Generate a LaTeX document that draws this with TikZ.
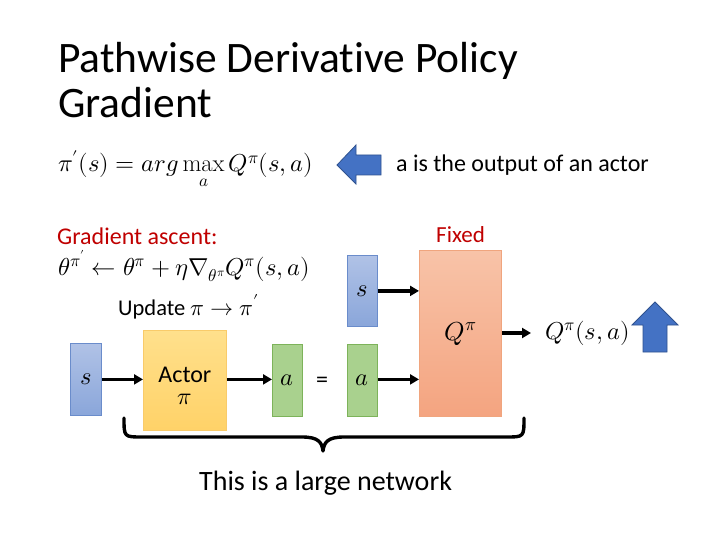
\documentclass[tikz,border=0pt]{standalone}
\usepackage{fontspec}
\usepackage{unicode-math}
\setmainfont{Carlito}[Ligatures={NoCommon}]
\setmathfont{Latin Modern Math}
\setmathrm{Latin Modern Roman}
\usetikzlibrary{arrows.meta}
\definecolor{redtxt}{HTML}{C00000}
\definecolor{blueTop}{HTML}{B0C2E6}
\definecolor{blueBot}{HTML}{8AA6DA}
\definecolor{blueLine}{HTML}{6A8CCB}
\definecolor{arrowFill}{HTML}{4472C4}
\definecolor{arrowLine}{HTML}{2F528F}
\definecolor{salTop}{HTML}{F8C3A8}
\definecolor{salBot}{HTML}{F4A480}
\definecolor{salLine}{HTML}{F0A57E}
\definecolor{yelTop}{HTML}{FFE08C}
\definecolor{yelBot}{HTML}{FFD268}
\definecolor{yelLine}{HTML}{F9CB6A}
\definecolor{grnFill}{HTML}{A9D18E}
\definecolor{grnLine}{HTML}{7DB35A}
\tikzset{
  txt/.style={inner sep=0pt, anchor=base west},
  blockbox/.style={rectangle, inner sep=0pt, anchor=north west, line width=0.8pt},
  bluebox/.style={blockbox, draw=blueLine, top color=blueTop, bottom color=blueBot},
  greenbox/.style={blockbox, draw=grnLine, fill=grnFill},
  actorbox/.style={blockbox, draw=yelLine, top color=yelTop, bottom color=yelBot},
  qbox/.style={blockbox, draw=salLine, top color=salTop, bottom color=salBot},
  flow/.style={line width=3.2pt, -{Triangle[length=9pt,width=10pt]}},
  blockarrow/.style={fill=arrowFill, draw=arrowLine, line width=0.8pt, line join=miter},
  bracepath/.style={line width=3.4pt, line cap=round, line join=round},
  mathbig/.style={font=\fontsize{24.5}{28}\selectfont},
  bodytxt/.style={font=\fontsize{24}{28}\selectfont}
}
\begin{document}
\begin{tikzpicture}[x=1pt,y=-1pt]
\useasboundingbox[fill=white] (0,0) rectangle (720,540);
% title
\node[txt, font=\fontsize{43.5}{48}\selectfont] (title1) at (58,73) {Pathwise Derivative Policy};
\node[txt, font=\fontsize{43.5}{48}\selectfont] (title2) at (58,118) {Gradient};
% first equation
\node[txt, mathbig] (eq1) at (58,172) {$\pi'(s) = arg\max\limits_{a} Q^{\pi}(s,a)$};
% left block arrow
\draw[blockarrow] (337,165) -- (356,145) -- (356,155) -- (381,155) -- (381,175) -- (356,175) -- (356,184) -- cycle;
\node[txt, bodytxt] (note) at (396,172) {a is the output of an actor};
% gradient ascent
\node[txt, bodytxt, text=redtxt] (ga) at (57,244) {Gradient ascent:};
\node[txt, mathbig] (eq2) at (58,275) {$\theta^{\pi'} \leftarrow \theta^{\pi} + \eta\nabla_{\theta^{\pi}} Q^{\pi}(s,a)$};
\node[txt, font=\fontsize{22.5}{26}\selectfont] (upd) at (118,315) {Update {\fontsize{23}{26}\selectfont$\pi \rightarrow \pi'$}};
\node[txt, font=\fontsize{23}{27}\selectfont, text=redtxt] (fixed) at (436,243) {Fixed};
% boxes
\node[bluebox, minimum width=31pt, minimum height=72pt, mathbig] (s1) at (70,343) {$s$};
\node[actorbox, minimum width=83pt, minimum height=100pt, bodytxt] (actor) at (143,330) {\raisebox{-13pt}[0pt][0pt]{\begin{tabular}{@{}c@{}}Actor\\[-6pt]{\fontsize{24}{26}\selectfont$\pi$}\end{tabular}}};
\node[greenbox, minimum width=30pt, minimum height=72pt, mathbig] (a1) at (272,344) {$a$};
\node[txt, anchor=center, bodytxt] (eqs) at (322,382) {=};
\node[greenbox, minimum width=30pt, minimum height=72pt, mathbig] (a2) at (347,344) {$a$};
\node[bluebox, minimum width=30pt, minimum height=71pt, mathbig] (s2) at (347,255) {$s$};
\node[qbox, minimum width=82pt, minimum height=166pt, font=\fontsize{26}{30}\selectfont] (Q) at (419,250) {$Q^{\pi}$\hspace{6pt}};
% output
\node[inner sep=0pt, anchor=west, mathbig] (qout) at (545,333) {$Q^{\pi}(s,a)$};
\coordinate (qend) at (531,333);
% connectors
\draw[flow] (s1.east) -- (actor.west |- s1.east);
\draw[flow] (actor.east |- s1.east) -- (a1.west |- s1.east);
\draw[flow] (a2.east |- s1.east) -- (Q.west |- s1.east);
\draw[flow] (s2.east) -- (Q.west |- s2.east);
\draw[flow] (Q.east |- qend) -- (qend);
% up block arrow
\draw[blockarrow] (655,302) -- (678,325) -- (667,325) -- (667,352) -- (643,352) -- (643,325) -- (632,325) -- cycle;
% brace
\draw[bracepath] (124,418) .. controls (124,437) .. (142,437) -- (302,437) .. controls (318,437) and (322,442) .. (323,451) .. controls (324,442) and (328,437) .. (344,437) -- (506,437) .. controls (524,437) .. (524,418);
\node[txt, font=\fontsize{28}{32}\selectfont] (net) at (199,490) {This is a large network};
\end{tikzpicture}
\end{document}
